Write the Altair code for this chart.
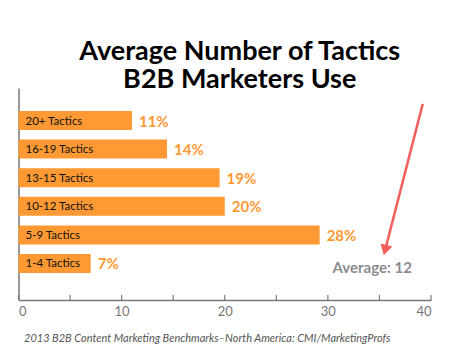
import altair as alt
import pandas as pd

categories = ["20+ Tactics", "16-19 Tactics", "13-15 Tactics", "10-12 Tactics", "5-9 Tactics", "1-4 Tactics"]
values = [11, 14, 19, 20, 28, 7]
bar_lengths = [11.0, 14.4, 19.5, 20.0, 29.2, 7.0]
value_labels = ["11%", "14%", "19%", "20%", "28%", "7%"]
tick_values = [0, 5, 10, 15, 20, 25, 30, 35, 40]
label_ticks = [0, 10, 20, 30, 40]

arrow_x = [39.2, 35.55]
arrow_y = [0.075, 0.765]
head_x = [35.55]
head_y = [0.765]
avg_text = ["Average: 12"]
avg_x = [34.3]
avg_y = [0.85]

ORANGE = "#FF9933"
FONT = "Lato"

df = pd.DataFrame({"cat": categories, "val": values, "len": bar_lengths, "lab": value_labels})
ticks_df = pd.DataFrame({"t": tick_values})
arrow_df = pd.DataFrame({"x": arrow_x, "y": arrow_y})
head_df = pd.DataFrame({"x": head_x, "y": head_y})
avg_df = pd.DataFrame({"x": avg_x, "y": avg_y, "t": avg_text})

W, H = 412.5, 212

xscale = alt.Scale(domain=[0, 40], nice=False)
yscale = alt.Scale(domain=categories, paddingInner=0.335, paddingOuter=0.874, align=0.46)

x_axis = alt.Axis(
    values=label_ticks, ticks=False, grid=False, domainColor="#777777", domainWidth=1.5,
    labelColor="#777777", labelFont=FONT, labelFontSize=13, labelPadding=5,
    title="2013 B2B Content Marketing Benchmarks\u2013North America: CMI/MarketingProfs",
    titleFont=FONT, titleFontSize=11, titleFontStyle="italic", titleFontWeight="normal",
    titleColor="#555555", titleAnchor="start", titleAlign="left", titleX=5, titleY=41,
    titleBaseline="alphabetic",
)
y_axis = alt.Axis(labels=False, ticks=False, title=None, grid=False, domainColor="#777777", domainWidth=1.5)

bars = alt.Chart(df).mark_bar(color=ORANGE).encode(
    x=alt.X("len:Q", scale=xscale, axis=x_axis),
    y=alt.Y("cat:N", scale=yscale, axis=y_axis, sort=categories),
)
names = alt.Chart(df).mark_text(align="left", baseline="middle", dx=7, dy=1, font=FONT, fontSize=11.5, color="#111111").encode(
    x=alt.datum(0),
    y=alt.Y("cat:N", sort=categories),
    text="cat:N",
)
vals = alt.Chart(df).mark_text(align="left", baseline="middle", dx=7, dy=1, font=FONT, fontSize=15, fontWeight="bold", color=ORANGE).encode(
    x="len:Q",
    y=alt.Y("cat:N", sort=categories),
    text="lab:N",
)
ticks = alt.Chart(ticks_df).mark_rule(color="#777777", strokeWidth=1.2).encode(
    x="t:Q",
    y=alt.value(H),
    y2=alt.value(H - 5),
)

ys = alt.Scale(domain=[0, 1], reverse=True, nice=False)
arrow = alt.Chart(arrow_df).mark_line(color="#F25F5C", strokeWidth=2.5).encode(
    x="x:Q",
    y=alt.Y("y:Q", scale=ys, axis=None),
)
head = alt.Chart(head_df).mark_point(shape="triangle-down", filled=True, size=150, angle=14.7, color="#F25F5C", opacity=1).encode(
    x="x:Q",
    y=alt.Y("y:Q", scale=ys, axis=None),
)
avg = alt.Chart(avg_df).mark_text(align="center", baseline="middle", font=FONT, fontSize=15, fontWeight="bold", color="#8C8C90").encode(
    x="x:Q",
    y=alt.Y("y:Q", scale=ys, axis=None),
    text="t:N",
)

main = alt.layer(bars, names, vals, ticks)
ann = alt.layer(arrow, head, avg)

chart = alt.layer(main, ann).resolve_scale(y="independent").properties(
    width=W,
    height=H,
    title=alt.TitleParams(
        text=["Average Number of Tactics", "B2B Marketers Use"],
        font=FONT, fontSize=27, fontWeight="bold", color="#000000",
        anchor="middle", frame="group", dx=15, offset=-6, lineHeight=28,
    ),
    autosize=alt.AutoSizeParams(type="none"),
    padding={"left": 10.5, "top": 80, "right": 32, "bottom": 53},
).configure_view(stroke=None)

chart.save("out.html", embed_options={"renderer": "svg", "actions": False})
